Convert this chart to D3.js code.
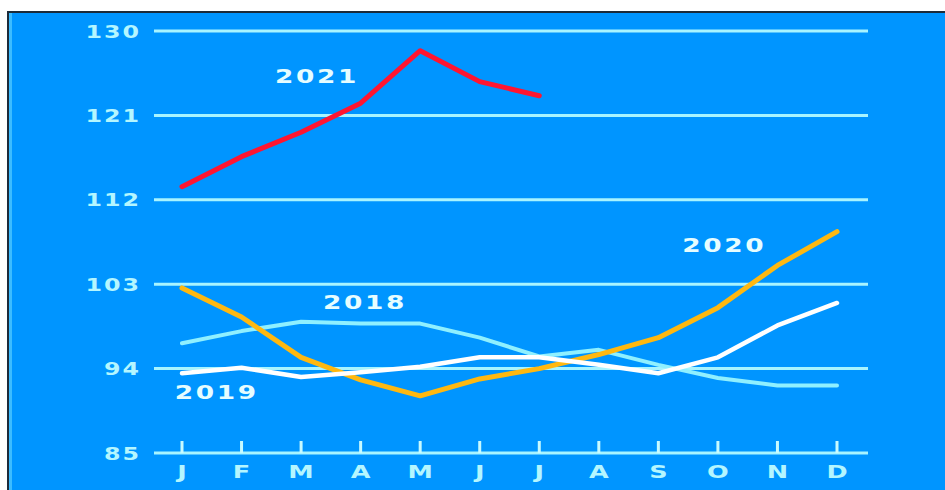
<!DOCTYPE html>
<html>
<head>
<meta charset="utf-8">
<script src="https://cdn.jsdelivr.net/npm/d3@7/dist/d3.min.js"></script>
<style>
  html, body { margin: 0; padding: 0; background: #ffffff; }
  svg { display: block; }
  text { font-family: "DejaVu Sans", "Liberation Sans", sans-serif; font-weight: bold; }
</style>
</head>
<body>
<svg id="chart" width="945" height="490"></svg>
<script>
// Monthly index values by year
const months = ["J", "F", "M", "A", "M", "J", "J", "A", "S", "O", "N", "D"];
const yTicks = [85, 94, 103, 112, 121, 130];

const values2018 = [96.7, 98.0, 99.0, 98.8, 98.8, 97.3, 95.3, 96.0, 94.4, 93.0, 92.2, 92.2];
const values2019 = [93.5, 94.1, 93.1, 93.6, 94.2, 95.2, 95.2, 94.4, 93.5, 95.2, 98.6, 101.0];
const values2020 = [102.6, 99.5, 95.2, 92.8, 91.1, 92.9, 94.0, 95.5, 97.3, 100.5, 105.0, 108.6];
const values2021 = [113.4, 116.6, 119.2, 122.3, 127.9, 124.6, 123.1];

const seriesNames = ["2018", "2020", "2019", "2021"];
const seriesValues = [values2018, values2020, values2019, values2021];
const seriesColors = ["#8ff0ff", "#ffb810", "#ffffff", "#ff1530"];
const seriesWidths = [4, 5, 4.5, 5];
// label anchors: [fractional month position, value at the text baseline]
const labelAnchors = [[2.37, 100.4], [8.40, 106.4], [-0.12, 90.8], [1.56, 124.5]];

const W = 945, H = 490;
const svg = d3.select("#chart");

// frame: white margin, dark rule, light strip, blue panel
svg.append("rect").attr("x", 0).attr("y", 0).attr("width", W).attr("height", H).attr("fill", "#ffffff");
svg.append("rect").attr("x", 7).attr("y", 11).attr("width", W - 7).attr("height", H - 11).attr("fill", "#1c2b3a");
svg.append("rect").attr("x", 9).attr("y", 13).attr("width", W - 9).attr("height", H - 13).attr("fill", "#3cbcff");
svg.append("rect").attr("x", 12).attr("y", 13).attr("width", W - 12).attr("height", H - 13).attr("fill", "#0095ff");

const plot = { left: 154, right: 868, top: 31, bottom: 453 };
const x = d3.scalePoint().domain(d3.range(12)).range([182, 837]);
const y = d3.scaleLinear().domain([85, 130]).range([plot.bottom, plot.top]);

const textColor = "#b4f6ff";
const stretch = 1.32;

// horizontal gridlines
svg.append("g").selectAll("line").data(yTicks).join("line")
  .attr("x1", plot.left).attr("x2", plot.right)
  .attr("y1", d => y(d)).attr("y2", d => y(d))
  .attr("stroke", "#a8f4ff").attr("stroke-width", 3);

// y tick labels
svg.append("g").selectAll("text").data(yTicks).join("text")
  .attr("transform", d => `translate(141,${y(d) + 6.5}) scale(${stretch},1)`)
  .attr("text-anchor", "end")
  .attr("font-size", 18)
  .attr("letter-spacing", 1.5)
  .attr("fill", textColor)
  .text(d => d);

// month ticks above the baseline
svg.append("g").selectAll("line").data(d3.range(12)).join("line")
  .attr("x1", d => x(d)).attr("x2", d => x(d))
  .attr("y1", y(85) - 12).attr("y2", y(85))
  .attr("stroke", "#c8faff").attr("stroke-width", 3);

// month labels
svg.append("g").selectAll("text").data(months).join("text")
  .attr("transform", (d, i) => `translate(${x(i)},478) scale(${stretch + 0.1},1)`)
  .attr("text-anchor", "middle")
  .attr("font-size", 18)
  .attr("fill", textColor)
  .text(d => d);

// series lines
seriesValues.forEach((vals, k) => {
  const line = d3.line()
    .x((d, i) => x(i))
    .y(d => y(d));
  svg.append("path")
    .datum(vals)
    .attr("d", line)
    .attr("fill", "none")
    .attr("stroke", seriesColors[k])
    .attr("stroke-width", seriesWidths[k])
    .attr("stroke-linejoin", "round")
    .attr("stroke-linecap", "round");
});

// year labels
const xLab = d3.scaleLinear().domain([0, 11]).range([182, 837]);
svg.append("g").selectAll("text").data(seriesNames).join("text")
  .attr("transform", (d, k) => `translate(${xLab(labelAnchors[k][0])},${y(labelAnchors[k][1])}) scale(${stretch},1)`)
  .attr("text-anchor", "start")
  .attr("font-size", 20)
  .attr("letter-spacing", 2)
  .attr("fill", "#e6fdff")
  .text(d => d);
</script>
</body>
</html>
